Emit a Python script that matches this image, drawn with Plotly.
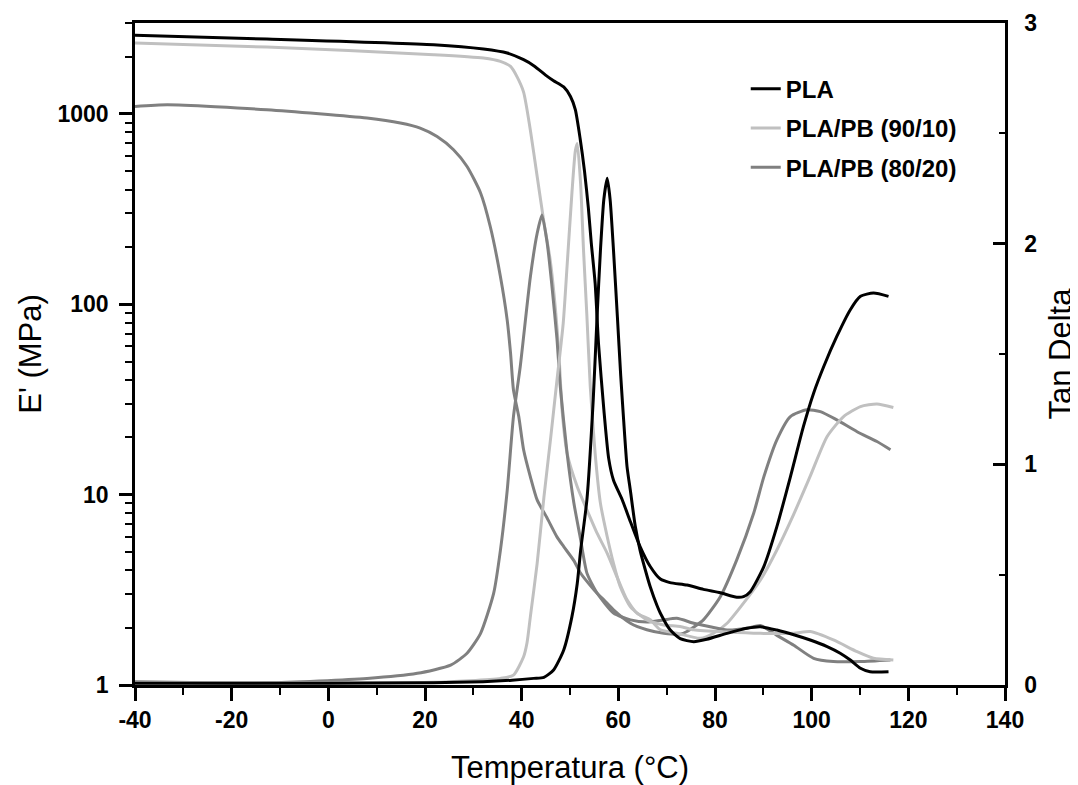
import plotly.graph_objects as go

# ---------------- data ----------------
pla_T_E = [-40, -12.7, 21.8, 32.1, 37.0, 40.4, 42.5, 45.3, 46.6, 48.7, 50.1, 51.1, 52.1, 53.0, 53.8,
           54.4, 55.2, 55.9, 57.0, 58.0, 59.0, 60.8, 62.5, 64.5, 66.6, 68.7, 70.7, 74.2, 77.6, 81.1,
           84.5, 85.9, 87.3, 90.1, 92.8, 95.6, 98.3, 100.4, 102.5, 105.2, 108.0, 110.1, 112.8, 115.9]
pla_E = [2583, 2472, 2307, 2190, 2086, 1924, 1791, 1574, 1493, 1384, 1233, 1051, 740, 500, 320,
         210, 129, 62, 28, 15.5, 11.9, 9.4, 7.2, 5.33, 4.19, 3.6, 3.45, 3.35, 3.18, 3.05,
         2.89, 2.91, 3.09, 4.19, 6.79, 12.4, 22.8, 34.1, 47.1, 67.7, 93.6, 110, 114.5, 110]

pla_T_tan = [-40, 0, 21.8, 32.0, 38.0, 42.5, 44.6, 46.6, 48.7, 50.4, 51.5, 52.2, 53.5, 54.8, 55.6,
             56.3, 57.0, 57.7, 58.3, 59.0, 59.8, 60.5, 61.1, 61.8, 62.5, 63.5, 64.5, 65.6, 66.6, 68.0,
             68.7, 70.7, 72.8, 75.6, 78.3, 82.5, 86.6, 89.4, 92.8, 96.3, 99.7, 103.2, 105.9, 108.0,
             110.1, 112.1, 115.9]
pla_tan = [0.008, 0.008, 0.010, 0.015, 0.022, 0.030, 0.035, 0.068, 0.159, 0.31, 0.46, 0.61, 0.84, 1.29, 1.67,
           1.97, 2.20, 2.296, 2.20, 1.97, 1.67, 1.40, 1.20, 0.99, 0.88, 0.72, 0.61, 0.52, 0.445, 0.36,
           0.325, 0.25, 0.21, 0.196, 0.207, 0.234, 0.257, 0.264, 0.249, 0.228, 0.204, 0.174, 0.144, 0.113,
           0.076, 0.060, 0.060]

b90_T_E = [-40, -12.7, 21.8, 32.1, 35.6, 37.7, 39.0, 40.4, 41.8, 43.2, 44.6, 45.9, 47.0, 47.7, 48.4,
           49.4, 51.5, 53.5, 55.6, 57.7, 59.7, 61.8, 63.9, 66.6, 68.7, 72.1, 77.0, 79.7, 82.5, 85.9,
           89.4, 92.8, 96.3, 99.7, 103.2, 106.6, 110.1, 113.5, 116.9]
b90_E = [2354, 2243, 2046, 1964, 1885, 1774, 1573, 1300, 820, 470, 270, 171, 93.5, 55.3, 27,
         16.5, 11.0, 8.31, 6.27, 4.92, 3.71, 2.80, 2.38, 2.20, 1.95, 1.87, 1.76, 1.87, 2.11, 2.69,
         3.56, 5.12, 7.9, 12.5, 20.2, 25.7, 29.0, 29.9, 28.7]

b90_T_tan = [-40, 0, 21.8, 35.6, 38.3, 40.4, 41.1, 41.8, 43.2, 44.6, 46.0, 47.3, 48.6, 49.4, 50.4,
             51.1, 51.5, 52.2, 52.8, 53.5, 54.2, 55.2, 56.3, 57.7, 59.0, 60.4, 62.5, 65.9, 69.4, 72.8,
             75.6, 82.5, 89.4, 96.3, 99.7, 104.5, 109.4, 112.8, 116.9]
b90_tan = [0.010, 0.010, 0.012, 0.030, 0.045, 0.128, 0.190, 0.31, 0.55, 0.85, 1.12, 1.38, 1.64, 1.90, 2.23,
           2.42, 2.454, 2.27, 1.97, 1.67, 1.35, 1.05, 0.823, 0.672, 0.551, 0.445, 0.354, 0.295, 0.272, 0.265,
           0.250, 0.240, 0.234, 0.234, 0.242, 0.204, 0.151, 0.121, 0.113]

b80_T_E = [-40, -33.3, -12.7, 8.0, 14.9, 19.0, 22.5, 25.9, 28.7, 31.5, 33.5, 35.6, 37.0, 37.7, 38.3,
           39.4, 40.4, 41.8, 43.2, 45.3, 47.3, 48.7, 50.8, 52.1, 53.5, 55.6, 57.0, 59.0, 62.5, 65.9,
           69.4, 72.8, 74.2, 77.6, 81.1, 84.5, 88.0, 90.1, 92.8, 95.6, 99.0, 101.8, 105.2, 109.4,
           113.5, 116.3]
b80_E = [1094, 1116, 1051, 950, 895, 842, 760, 648, 529, 384, 256, 140, 82.8, 55.3, 35.5,
         25.7, 17.2, 12.4, 9.38, 7.5, 6.0, 5.33, 4.5, 3.9, 3.5, 3.03, 2.8, 2.48, 2.11, 1.95,
         1.87, 1.85, 1.91, 2.20, 2.91, 4.54, 7.98, 12.4, 19.4, 25.7, 27.9, 27.3, 24.7, 21.4,
         19.0, 17.2]

b80_T_tan = [-40, -12.7, 8.0, 18.4, 25.3, 28.7, 31.5, 34.2, 35.6, 37.0, 38.3, 39.7, 41.8, 43.2,
             44.2, 45.3, 46.3, 47.3, 48.0, 49.4, 50.8, 52.1, 53.5, 55.6, 59.0, 62.5, 65.9, 69.4, 72.1,
             75.6, 79.0, 82.5, 86.6, 89.4, 92.8, 96.3, 100.4, 104.5, 110.1, 116.3]
b80_tan = [0.015, 0.010, 0.030, 0.053, 0.090, 0.144, 0.234, 0.415, 0.61, 0.88, 1.216, 1.442, 1.85, 2.046,
           2.13, 2.00, 1.80, 1.57, 1.35, 1.05, 0.825, 0.671, 0.507, 0.417, 0.326, 0.295, 0.285, 0.295, 0.302,
           0.280, 0.264, 0.249, 0.257, 0.270, 0.225, 0.180, 0.121, 0.106, 0.106, 0.113]

names = ["PLA", "PLA/PB (90/10)", "PLA/PB (80/20)"]
colors = ["#000000", "#c0c0c0", "#808080"]

x_tickvals = [-40, -20, 0, 20, 40, 60, 80, 100, 120, 140]
x_ticktext = ["-40", "-20", "0", "20", "40", "60", "80", "100", "120", "140"]
yE_tickvals = [1, 10, 100, 1000]
yE_ticktext = ["1", "10", "100", "1000"]

# ---------------- figure ----------------
FONT = "Arial, Liberation Sans, sans-serif"
fig = go.Figure()

# drawn 80/20 first so that PLA ends on top; legendrank keeps the legend order PLA, 90/10, 80/20
series = [
    (b80_T_E, b80_E, b80_T_tan, b80_tan, names[2], colors[2], 3),
    (b90_T_E, b90_E, b90_T_tan, b90_tan, names[1], colors[1], 2),
    (pla_T_E, pla_E, pla_T_tan, pla_tan, names[0], colors[0], 1),
]
for tE, E, tT, tan, nm, col, rank in series:
    fig.add_trace(go.Scatter(x=tE, y=E, mode="lines", name=nm, legendgroup=nm, legendrank=rank,
                             line=dict(color=col, width=3, shape="spline", smoothing=0.6), yaxis="y"))
    fig.add_trace(go.Scatter(x=tT, y=tan, mode="lines", name=nm, legendgroup=nm, legendrank=rank,
                             showlegend=False,
                             line=dict(color=col, width=3, shape="spline", smoothing=0.6), yaxis="y2"))

minor_log = [m * 10 ** d for d in range(0, 4) for m in range(2, 10) if m * 10 ** d <= 3000]

fig.update_layout(
    width=1070, height=777,
    margin=dict(l=127, r=73, t=15, b=100, autoexpand=False),
    plot_bgcolor="white", paper_bgcolor="white",
    font=dict(family=FONT, color="black"),
    showlegend=True,
    legend=dict(x=0.702, y=0.934, xanchor="left", yanchor="top", traceorder="grouped",
                bgcolor="rgba(0,0,0,0)", tracegroupgap=5,
                font=dict(family=FONT, size=24, color="black", weight="bold")),
    xaxis=dict(range=[-40, 140], tickmode="array", tickvals=x_tickvals, ticktext=x_ticktext,
               showgrid=False, zeroline=False,
               showline=True, linecolor="black", linewidth=2.5, mirror=True,
               ticks="outside", ticklen=13, tickwidth=2.5, tickcolor="black",
               minor=dict(dtick=10, tick0=-40, ticks="outside", ticklen=7, tickwidth=2, tickcolor="black",
                          showgrid=False),
               tickfont=dict(family=FONT, size=23, color="black", weight="bold"),
               title=dict(text="Temperatura (°C)", font=dict(family=FONT, size=31, color="black"), standoff=25)),
    yaxis=dict(type="log", range=[0, 3.4771], tickmode="array", tickvals=yE_tickvals, ticktext=yE_ticktext,
               showgrid=False, zeroline=False, showline=True, linecolor="black", linewidth=2.5,
               ticks="outside", ticklen=13, tickwidth=2.5, tickcolor="black", ticklabelstandoff=6,
               minor=dict(tickmode="array", tickvals=minor_log, ticks="outside", ticklen=7, tickwidth=2,
                          tickcolor="black", showgrid=False),
               tickfont=dict(family=FONT, size=23, color="black", weight="bold"),
               title=dict(text="E' (MPa)", font=dict(family=FONT, size=31, color="black"), standoff=7)),
    yaxis2=dict(overlaying="y", side="right", range=[0, 3], dtick=1, tick0=0, showgrid=False, zeroline=False,
                showline=True, linecolor="black", linewidth=2.5,
                ticks="inside", ticklen=12, tickwidth=2.5, tickcolor="black", ticklabelstandoff=12,
                minor=dict(dtick=0.5, ticks="inside", ticklen=6, tickwidth=2, tickcolor="black", showgrid=False),
                tickfont=dict(family=FONT, size=23, color="black", weight="bold"),
                title=dict(text="Tan Delta", font=dict(family=FONT, size=31, color="black"), standoff=26)),
)

fig.write_html("out.html")
